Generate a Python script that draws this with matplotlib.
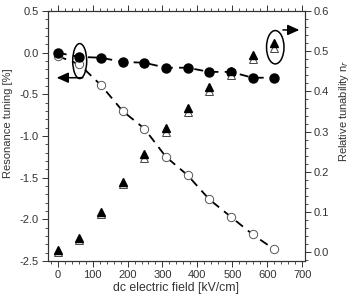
import matplotlib
matplotlib.use("Agg")
import matplotlib.pyplot as plt
from matplotlib.patches import Ellipse
from matplotlib.ticker import MultipleLocator, FormatStrFormatter

plt.rcParams["font.family"] = ["Liberation Sans", "DejaVu Sans"]
plt.rcParams["font.size"] = 8

field = [0, 62, 124, 186, 248, 310, 372, 434, 496, 558, 620]
tuning_filled = [0.0, -0.05, -0.06, -0.11, -0.12, -0.18, -0.18, -0.23, -0.23, -0.30, -0.30]
tuning_open = [-0.04, -0.14, -0.39, -0.70, -0.91, -1.25, -1.47, -1.76, -1.97, -2.18, -2.36]
nr_filled = [0.005, 0.035, 0.10, 0.175, 0.245, 0.31, 0.36, 0.41, 0.45, 0.49, 0.52]
nr_open = [0.0, 0.03, 0.095, 0.17, 0.235, 0.30, 0.35, 0.40, 0.44, 0.48, 0.508]

fig = plt.figure(figsize=(3.55, 2.99), dpi=100)
ax1 = fig.add_axes([0.135, 0.127, 0.724, 0.836])
ax2 = ax1.twinx()

grey = "#333333"
dash = (0, (5, 3.5))

ax1.plot(field, tuning_open, ls=dash, color="black", lw=1.3,
         marker="o", ms=6, mfc="white", mec="#555555", mew=0.7, zorder=3)
ax1.plot(field, tuning_filled, ls=dash, color="black", lw=1.3,
         marker="o", ms=6.5, mfc="black", mec="black", zorder=4)

ax2.plot(field, nr_open, ls="none", marker="^", ms=6, mfc="white",
         mec="#444444", mew=0.7)
ax2.plot(field, nr_filled, ls="none", marker="^", ms=6, mfc="black",
         mec="black")

ax1.set_xlim(-28, 708)
ax1.set_ylim(-2.5, 0.5)
ax2.set_ylim(-0.022, 0.6)

ax1.xaxis.set_major_locator(MultipleLocator(100))
ax1.xaxis.set_minor_locator(MultipleLocator(20))
ax1.yaxis.set_major_locator(MultipleLocator(0.5))
ax1.yaxis.set_minor_locator(MultipleLocator(0.1))
ax2.yaxis.set_major_locator(MultipleLocator(0.1))
ax2.yaxis.set_minor_locator(MultipleLocator(0.02))
ax1.yaxis.set_major_formatter(FormatStrFormatter("%.1f"))
ax2.yaxis.set_major_formatter(FormatStrFormatter("%.1f"))

for ax in (ax1, ax2):
    ax.tick_params(which="both", direction="out", colors=grey,
                   labelcolor=grey, pad=2.5)
    ax.tick_params(which="major", length=4, width=0.7)
    ax.tick_params(which="minor", length=2.2, width=0.6)
    for sp in ax.spines.values():
        sp.set_linewidth(0.8)
        sp.set_color(grey)
ax1.tick_params(which="both", top=True, right=False)

ax1.set_xlabel("dc electric field [kV/cm]", color=grey, fontsize=8.8)
ax1.set_ylabel("Resonance tuning [%]", color=grey)
ax2.set_ylabel("Relative tunability n$_r$", color=grey)
ax1.xaxis.set_label_coords(0.5, -0.085)
ax1.yaxis.set_label_coords(-0.136, 0.55)
ax2.yaxis.set_label_coords(1.125, 0.6)

arrow = dict(arrowstyle="-|>,head_length=1.0,head_width=0.45",
             mutation_scale=7, color="black", lw=1.1, shrinkA=0, shrinkB=0)

# ellipse + arrow towards the left axis
ax1.add_patch(Ellipse((63, -0.10), 40, 0.42, fill=False, lw=1.1,
                      color="black", zorder=5))
ax1.annotate("", xy=(-3, -0.30), xytext=(72, -0.30), arrowprops=arrow,
             zorder=6)

# ellipse + arrow towards the right axis
ax2.add_patch(Ellipse((623, 0.51), 50, 0.083, fill=False, lw=1.1,
                      color="black", zorder=5))
ax2.annotate("", xy=(692, 0.553), xytext=(645, 0.553), arrowprops=arrow,
             zorder=6)

fig.savefig("out.png", dpi=100)
